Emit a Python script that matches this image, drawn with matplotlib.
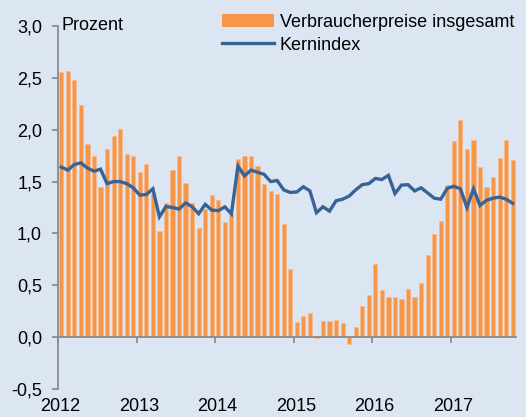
import matplotlib
matplotlib.use("Agg")
import matplotlib.pyplot as plt
import numpy as np
from matplotlib.patches import Patch
from matplotlib.lines import Line2D
from matplotlib.transforms import blended_transform_factory

plt.rcParams['font.family'] = ['Liberation Sans', 'DejaVu Sans']

years = ['2012', '2013', '2014', '2015', '2016', '2017']

verbraucherpreise = [
    # 2012
    2.56, 2.57, 2.48, 2.24, 1.86, 1.75, 1.45, 1.81, 1.94, 2.01, 1.77, 1.75,
    # 2013
    1.59, 1.665, 1.38, 1.02, 1.29, 1.61, 1.75, 1.485, 1.29, 1.05, 1.24, 1.37,
    # 2014
    1.32, 1.11, 1.19, 1.72, 1.75, 1.75, 1.65, 1.475, 1.41, 1.376, 1.09, 0.656,
    # 2015
    0.145, 0.205, 0.234, -0.01, 0.157, 0.157, 0.167, 0.135, -0.07, 0.10, 0.30, 0.41,
    # 2016
    0.704, 0.45, 0.39, 0.39, 0.37, 0.46, 0.39, 0.52, 0.79, 0.996, 1.12, 1.47,
    # 2017
    1.89, 2.09, 1.81, 1.90, 1.64, 1.45, 1.54, 1.73, 1.90, 1.71,
]

kernindex = [
    # 2012
    1.64, 1.61, 1.665, 1.68, 1.63, 1.60, 1.62, 1.48, 1.50, 1.50, 1.48, 1.44,
    # 2013
    1.37, 1.375, 1.43, 1.16, 1.26, 1.25, 1.235, 1.295, 1.257, 1.19, 1.28, 1.225,
    # 2014
    1.22, 1.256, 1.19, 1.65, 1.555, 1.61, 1.59, 1.57, 1.50, 1.51, 1.42, 1.395,
    # 2015
    1.40, 1.45, 1.41, 1.20, 1.257, 1.215, 1.315, 1.33, 1.36, 1.42, 1.47, 1.48,
    # 2016
    1.53, 1.52, 1.56, 1.385, 1.466, 1.47, 1.41, 1.44, 1.39, 1.34, 1.33, 1.435,
    # 2017
    1.455, 1.43, 1.25, 1.43, 1.27, 1.32, 1.34, 1.35, 1.33, 1.29,
]

ytick_vals = [-0.5, 0.0, 0.5, 1.0, 1.5, 2.0, 2.5, 3.0]

bg = '#DCE6F2'
orange = '#F79646'
blue = '#376397'
grey = '#8C8C8C'

fig = plt.figure(figsize=(5.26, 4.17), dpi=100, facecolor=bg)
ax = fig.add_axes([58/526, 1-389/417, (516-58)/526, (389-26)/417])
ax.set_facecolor(bg)

n = len(verbraucherpreise)
x = np.arange(n) + 0.5
ax.bar(x, verbraucherpreise, width=0.64, color=orange, edgecolor='#F9B98A',
       linewidth=0.5, zorder=2)
ax.plot(x, kernindex, color=blue, linewidth=2.4, zorder=3, solid_joinstyle='miter')

ax.set_xlim(0, 70)
ax.set_ylim(-0.5, 3.0)

for s in ['top', 'right']:
    ax.spines[s].set_visible(False)
ax.spines['left'].set_color(grey)
ax.spines['left'].set_linewidth(1.3)
ax.spines['bottom'].set_color(grey)
ax.spines['bottom'].set_linewidth(1.3)
ax.spines['bottom'].set_position(('data', 0))
ax.spines['bottom'].set_zorder(4)

ax.set_yticks(ytick_vals)
ax.set_yticklabels([f"{v:.1f}".replace('.', ',') for v in ytick_vals], fontsize=13)
ax.tick_params(axis='y', direction='out', length=4.5, width=1.3, color=grey, pad=7)

ax.set_xticks([12 * i for i in range(len(years))])
ax.set_xticklabels([])
ax.tick_params(axis='x', direction='out', length=4, width=1.3, color=grey)

trans = blended_transform_factory(ax.transData, ax.transAxes)
for i, yr in enumerate(years):
    ax.text(12 * i + 0.4, -0.049, yr, transform=trans, ha='center', va='center',
            fontsize=13)

ax.text(0.6, 3.0, 'Prozent', ha='left', va='center', fontsize=13)

handles = [Patch(facecolor=orange, edgecolor='none'),
           Line2D([0], [0], color=blue, linewidth=2.4)]
leg = fig.legend(handles, ['Verbraucherpreise insgesamt', 'Kernindex'],
                 loc='upper left', bbox_to_anchor=(222/526, 1-14/417),
                 frameon=False, fontsize=13, handlelength=2.9,
                 handletextpad=0.3, labelspacing=0.32, borderpad=0,
                 borderaxespad=0)

fig.savefig('out.png', dpi=100, facecolor=bg)
